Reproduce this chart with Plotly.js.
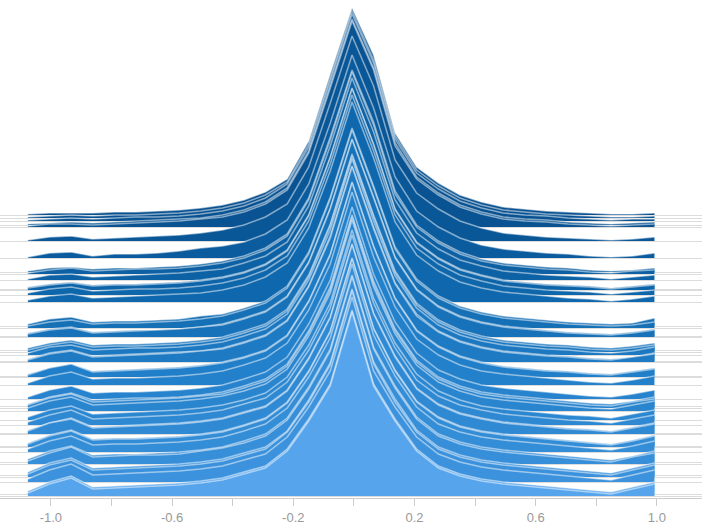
<!DOCTYPE html>
<html>
<head>
<meta charset="utf-8">
<script src="https://cdn.plot.ly/plotly-3.0.1.min.js"></script>
<style>html,body{margin:0;padding:0;background:#fff;}#chart{width:702px;height:524px;}</style>
</head>
<body>
<div id="chart"></div>
<script>
// x positions of the sampled points
const xValues = [-1.076,-1.005,-0.933,-0.862,-0.791,-0.720,-0.648,-0.577,-0.506,-0.434,
  -0.363,-0.292,-0.220,-0.149,-0.078,-0.006,0.065,0.136,0.207,0.279,
  0.350,0.421,0.493,0.564,0.635,0.707,0.778,0.849,0.920,0.992];

// baseline (offset) of each ridge, top ridge first
const baselines = [283,280,277,273,271,257,240,226,224,218,209,208,203,196,
  172,170,162,161,148,146,143,137,136,122,121,113,99,92,90,87,78,73,65,64,
  52,51,46,36,34,23,21,16,4,2];

// ridge heights above their baseline
const ridge01 = [1,2,2,2,3,3,4,5,7,10,15,23,36,74,141,207,160,82,48,32,20,13,8,6,4,3,2,1,1,2];
const ridge02 = [1,2,3,2,3,3,4,5,7,10,15,23,36,74,140,207,158,82,48,32,20,13,8,6,4,3,2,1,1,2];
const ridge03 = [1,2,3,2,3,4,4,5,7,10,15,23,37,74,140,207,158,82,48,32,20,13,8,6,5,3,2,1,2,2];
const ridge04 = [1,2,3,2,3,4,5,6,7,10,15,23,37,74,140,206,157,82,48,32,20,13,8,6,5,3,2,1,2,3];
const ridge05 = [1,3,3,2,3,4,5,6,8,10,15,23,37,74,139,206,157,81,48,32,20,13,8,6,5,3,2,1,2,3];
const ridge06 = [1,4,5,2,3,4,5,6,8,11,16,24,37,74,138,205,155,81,48,32,20,13,8,6,4,3,2,1,2,4];
const ridge07 = [1,5,6,2,4,4,5,7,10,12,16,24,38,74,135,203,150,81,47,31,20,13,9,7,5,4,2,1,2,5];
const ridge08 = [1,4,5,3,4,4,5,6,8,11,16,24,38,74,135,202,150,81,47,31,20,13,9,7,5,4,2,1,2,4];
const ridge09 = [1,4,6,3,4,5,5,6,8,11,16,24,38,74,134,202,149,80,47,31,20,13,9,7,5,4,2,1,3,4];
const ridge10 = [1,5,6,3,4,5,6,7,9,11,17,24,38,74,134,202,148,80,47,31,20,14,9,7,5,4,3,1,3,5];
const ridge11 = [2,5,7,4,5,5,6,7,9,12,17,25,39,74,132,201,145,80,47,31,20,14,9,7,5,4,3,1,3,5];
const ridge12 = [2,5,7,4,5,5,6,7,9,12,17,25,39,74,132,201,145,80,47,31,20,14,9,7,5,4,3,1,3,5];
const ridge13 = [2,6,8,4,5,6,6,7,9,12,17,25,39,74,131,200,144,80,47,31,20,14,9,7,5,4,3,1,3,5];
const ridge14 = [2,6,8,4,5,6,7,8,9,12,17,25,39,74,131,200,144,80,47,31,20,14,10,8,6,4,3,1,3,6];
const ridge15 = [2,7,9,4,5,5,6,7,10,12,18,25,40,74,129,198,140,79,47,30,20,14,10,8,6,4,3,2,3,8];
const ridge16 = [2,6,8,4,5,5,6,7,9,12,18,25,40,74,129,198,140,79,47,30,20,14,10,8,6,4,3,2,3,6];
const ridge17 = [3,7,9,4,5,6,6,7,9,12,18,25,40,74,128,197,139,79,47,30,20,14,10,8,6,4,3,2,4,7];
const ridge18 = [3,7,9,4,5,6,7,8,10,12,18,25,40,74,128,197,139,79,47,30,20,14,10,8,6,4,3,2,4,7];
const ridge19 = [2,7,10,5,6,6,7,8,10,13,19,26,41,75,126,196,135,79,47,30,20,14,10,8,6,5,3,2,4,7];
const ridge20 = [2,7,10,5,6,6,7,8,10,13,19,26,41,75,126,196,135,79,47,30,20,14,10,8,6,5,3,2,4,7];
const ridge21 = [2,8,10,5,6,7,7,8,10,13,19,26,41,75,125,196,134,79,47,30,20,14,10,8,6,5,3,2,4,8];
const ridge22 = [2,8,11,5,6,7,8,9,10,13,19,26,41,75,125,195,134,78,47,30,20,14,10,8,6,5,3,2,4,8];
const ridge23 = [2,8,11,5,6,7,8,9,11,13,19,26,41,75,124,195,133,78,46,30,20,14,10,8,6,5,3,2,5,8];
const ridge24 = [2,8,12,5,6,7,8,9,11,14,19,26,41,75,122,194,130,78,46,30,20,14,10,8,6,5,3,2,5,8];
const ridge25 = [2,9,13,5,6,7,8,9,11,14,19,26,41,75,122,194,130,78,46,30,20,14,10,8,6,5,3,2,5,8];
const ridge26 = [2,9,13,6,7,7,8,9,11,14,20,27,42,75,121,193,128,78,46,30,20,14,11,9,7,5,3,2,5,9];
const ridge27 = [2,9,13,6,7,7,8,9,11,14,20,27,42,75,119,192,125,77,46,29,20,14,11,9,7,5,3,2,5,9];
const ridge28 = [2,9,13,6,7,8,8,9,11,14,20,27,42,75,119,191,125,77,46,29,20,14,11,9,7,5,3,2,5,9];
const ridge29 = [3,10,14,6,7,8,9,10,12,14,20,27,42,75,118,191,124,77,46,29,20,14,11,9,7,5,3,2,6,9];
const ridge30 = [3,10,14,6,7,8,9,10,12,15,20,27,42,75,118,191,124,77,46,29,20,14,11,9,7,5,3,2,6,10];
const ridge31 = [3,10,14,6,7,8,9,10,12,15,20,27,43,75,117,190,122,77,46,29,20,14,11,9,7,5,4,2,6,10];
const ridge32 = [3,10,15,6,7,8,9,10,12,15,21,27,43,75,117,190,122,77,45,29,20,15,11,9,7,5,4,2,6,10];
const ridge33 = [3,10,15,6,7,8,9,10,12,15,21,27,43,75,116,189,120,77,45,29,20,15,11,9,7,5,4,2,6,10];
const ridge34 = [3,11,15,6,7,8,9,10,12,15,21,27,43,75,116,189,120,77,45,29,20,15,11,9,7,5,4,2,6,10];
const ridge35 = [3,11,16,7,8,8,9,10,12,15,21,28,44,75,115,188,118,76,45,29,20,15,12,10,8,6,4,2,6,11];
const ridge36 = [3,11,16,7,8,8,9,10,12,15,21,28,44,75,115,188,118,76,45,29,20,15,12,10,8,6,4,2,6,11];
const ridge37 = [3,11,16,7,8,8,9,10,12,15,21,28,44,75,114,188,117,76,45,28,20,15,12,10,8,6,4,2,6,11];
const ridge38 = [3,11,16,7,8,8,9,10,12,15,21,28,44,75,113,187,115,76,45,28,20,15,12,10,8,6,4,2,6,11];
const ridge39 = [3,11,17,7,8,9,9,10,13,16,21,28,44,75,113,187,115,76,45,28,20,15,12,10,8,6,4,2,7,11];
const ridge40 = [3,12,17,7,8,9,10,11,13,16,22,28,44,75,112,186,113,76,45,28,20,15,12,10,8,6,4,2,7,12];
const ridge41 = [3,12,17,7,8,9,10,11,13,16,22,28,45,75,112,186,113,75,45,28,20,15,12,10,8,6,4,2,7,12];
const ridge42 = [3,12,18,7,8,9,10,11,13,16,22,28,45,75,111,185,111,75,45,28,20,15,12,10,8,6,4,2,7,12];
const ridge43 = [3,12,18,7,8,9,10,11,13,16,22,28,45,75,110,184,110,75,45,28,20,15,12,10,8,6,4,2,7,12];
const ridge44 = [3,12,18,7,8,9,10,11,13,16,22,28,45,75,110,184,110,75,45,28,20,15,12,10,8,6,4,2,7,12];

const ridgeHeights = [ridge01,ridge02,ridge03,ridge04,ridge05,ridge06,ridge07,ridge08,ridge09,ridge10,
  ridge11,ridge12,ridge13,ridge14,ridge15,ridge16,ridge17,ridge18,ridge19,ridge20,
  ridge21,ridge22,ridge23,ridge24,ridge25,ridge26,ridge27,ridge28,ridge29,ridge30,
  ridge31,ridge32,ridge33,ridge34,ridge35,ridge36,ridge37,ridge38,ridge39,ridge40,
  ridge41,ridge42,ridge43,ridge44];

const tickValues = [-1.0,-0.8,-0.6,-0.4,-0.2,0.0,0.2,0.4,0.6,0.8,1.0];
const tickLabels = ['-1.0','','-0.6','','-0.2','','0.2','','0.6','','1.0'];

// colour ramp (style): dark blue at top -> light blue at bottom
const colorStops = [
  [0.00, [8,80,143]],
  [0.30, [14,103,172]],
  [0.60, [35,128,202]],
  [0.95, [60,146,220]],
  [0.99, [86,164,236]],
  [1.00, [86,164,236]]
];
function rampColor(f) {
  for (let s = 1; s < colorStops.length; s++) {
    if (f <= colorStops[s][0]) {
      const a = colorStops[s-1], b = colorStops[s];
      const t = (f - a[0]) / (b[0] - a[0] || 1);
      const c = a[1].map((v, j) => Math.round(v + (b[1][j] - v) * t));
      return 'rgb(' + c.join(',') + ')';
    }
  }
  return 'rgb(' + colorStops[colorStops.length-1][1].join(',') + ')';
}

const traces = [];
const topBase = baselines[0], bottomBase = baselines[baselines.length-1];
ridgeHeights.forEach((h, k) => {
  const b = baselines[k];
  const f = (topBase - b) / (topBase - bottomBase);
  traces.push({
    x: xValues, y: xValues.map(() => b),
    type: 'scatter', mode: 'lines',
    line: {width: 0, color: 'rgba(0,0,0,0)'},
    hoverinfo: 'skip', showlegend: false
  });
  traces.push({
    x: xValues, y: h.map(v => b + v),
    type: 'scatter', mode: 'lines',
    fill: 'tonexty', fillcolor: rampColor(f),
    line: {width: 1.5, color: 'rgba(255,255,255,0.5)'},
    hoverinfo: 'skip', showlegend: false
  });
});

const layout = {
  width: 702, height: 524,
  margin: {l: 0, r: 0, t: 0, b: 26, pad: 0},
  paper_bgcolor: '#ffffff', plot_bgcolor: '#ffffff',
  showlegend: false,
  xaxis: {
    range: [-1.168, 1.149],
    tickmode: 'array', tickvals: tickValues, ticktext: tickLabels,
    ticks: 'outside', ticklen: 7, tickwidth: 1, tickcolor: '#cccccc',
    tickfont: {family: 'Liberation Sans, Arial, sans-serif', size: 13, color: '#999999'},
    showgrid: false, zeroline: false,
    showline: true, linecolor: '#cccccc', linewidth: 1
  },
  yaxis: {
    range: [0, 498],
    tickmode: 'array', tickvals: baselines,
    showticklabels: false, ticks: '',
    showgrid: true, gridcolor: '#dcdcdc', gridwidth: 1,
    zeroline: false, showline: false
  }
};

Plotly.newPlot('chart', traces, layout, {displayModeBar: false, staticPlot: true});
</script>
</body>
</html>
